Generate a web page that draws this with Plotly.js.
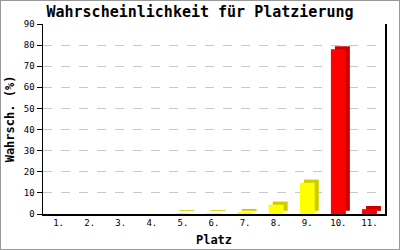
<!DOCTYPE html>
<html><head><meta charset="utf-8">
<script src="https://cdn.plot.ly/plotly-3.0.1.min.js"></script>
<style>
html,body{margin:0;padding:0;background:#fff;}
#c{width:398px;height:248px;border:1px solid #999;}
</style></head>
<body><div id="c"></div>
<script>
var categories = ["1.","2.","3.","4.","5.","6.","7.","8.","9.","10.","11."];
var values = [0,0,0,0,0.4,0.4,0.9,4.4,14.8,78,2.3];
var frontColors = ["#ffff00","#ffff00","#ffff00","#ffff00","#ffff00","#ffff00","#ffff00","#ffff00","#ffff00","#ff0000","#ff0000"];
var sideColors = ["#cccc00","#cccc00","#cccc00","#cccc00","#cccc00","#cccc00","#cccc00","#cccc00","#cccc00","#cc0000","#cc0000"];
var depth = 1.5;

var shown = values.map(function(v){return v>0;});
var backY = values.map(function(v,i){return shown[i]? v : null;});
var frontY = values.map(function(v,i){return shown[i]? v : null;});

var back = {
  type:'bar', x:categories, y:backY, base:depth,
  width:0.48, offset:-0.24+0.13,
  marker:{color:sideColors, line:{width:0}}, hoverinfo:'skip'
};
var front = {
  type:'bar', x:categories, y:frontY,
  width:0.48, offset:-0.24,
  marker:{color:frontColors, line:{width:0}}, hoverinfo:'skip'
};
var mono = '"DejaVu Sans Mono", "Liberation Mono", monospace';
var layout = {
  width:398, height:248,
  margin:{l:42,r:14,t:23,b:35},
  paper_bgcolor:'#fff', plot_bgcolor:'#fff',
  showlegend:false, barmode:'overlay',
  title:{text:'<b>Wahrscheinlichkeit für Platzierung</b>', font:{family:mono,size:15,color:'#000'}, x:0.5, xanchor:'center', y:0.955, yanchor:'middle'},
  xaxis:{type:'category', showline:true, linecolor:'#000', linewidth:1.5, ticks:'', showgrid:false, zeroline:false,
    tickfont:{family:mono,size:9,color:'#000'},
    title:{text:'<b>Platz</b>', font:{family:mono,size:12,color:'#000'}, standoff:8}},
  yaxis:{range:[0,90], dtick:10, showline:true, linecolor:'#000', linewidth:1.5, mirror:true,
    ticks:'outside', ticklen:5, tickcolor:'#000',
    showgrid:true, gridcolor:'#c8c8c8', griddash:'dash', gridwidth:1, zeroline:false,
    tickfont:{family:mono,size:9,color:'#000'},
    title:{text:'<b>Wahrsch. (%)</b>', font:{family:mono,size:12,color:'#000'}, standoff:6}}
};
Plotly.newPlot('c',[back,front],layout,{staticPlot:true});
</script></body></html>
